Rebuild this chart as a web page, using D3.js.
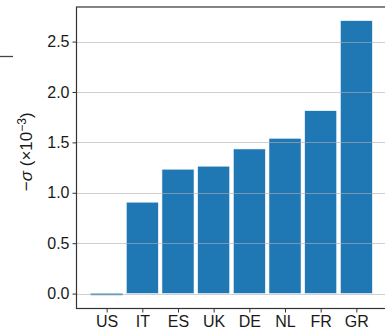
<!DOCTYPE html>
<html>
<head>
<meta charset="utf-8">
<script src="https://cdn.jsdelivr.net/npm/d3@7"></script>
<style>
  html, body { margin: 0; padding: 0; background: #fff; }
  svg { display: block; font-family: "Liberation Sans", Arial, sans-serif; }
</style>
</head>
<body>
<svg id="chart" width="385" height="332"></svg>
<script>
// Countries and their −σ values (in units of 10⁻³)
const countries = ["US", "IT", "ES", "UK", "DE", "NL", "FR", "GR"];
const sigmaValues = [-0.012, 0.907, 1.234, 1.264, 1.435, 1.541, 1.815, 2.708];
const yTicks = [0.0, 0.5, 1.0, 1.5, 2.0, 2.5];

const svg = d3.select("#chart");
const plot = { left: 76.5, top: 7, right: 386.5, bottom: 308.5 };
const fontSize = 16;

// Category positions: bar width is 0.9 of a slot, with a 5% margin on both sides
const n = countries.length;
const x = d3.scaleLinear()
  .domain([-0.845, n - 1 + 0.845])
  .range([plot.left, plot.right]);
const step = x(1) - x(0);
const barW = 0.9 * step;

const y = d3.scaleLinear()
  .domain([-0.148, 2.843])
  .range([plot.bottom, plot.top]);

// Bars
svg.append("g")
  .selectAll("rect")
  .data(sigmaValues)
  .join("rect")
  .attr("x", (d, i) => x(i) - barW / 2)
  .attr("width", barW)
  .attr("y", d => Math.min(y(d), y(0)))
  .attr("height", d => Math.max(1.6, Math.abs(y(d) - y(0))))
  .attr("fill", "#1f77b4")
  .attr("stroke", d => Math.abs(y(d) - y(0)) > 3 ? "#ffffff" : "none")
  .attr("stroke-width", 0.6);

// Horizontal gridlines, drawn above the bars
svg.append("g")
  .selectAll("line")
  .data(yTicks)
  .join("line")
  .attr("x1", plot.left)
  .attr("x2", plot.right)
  .attr("y1", d => Math.round(y(d)) + 0.5)
  .attr("y2", d => Math.round(y(d)) + 0.5)
  .attr("stroke", "#b0b0b0")
  .attr("stroke-opacity", 0.6)
  .attr("stroke-width", 1);

// Y axis
const yAxis = d3.axisLeft(y)
  .tickValues(yTicks)
  .tickFormat(d3.format(".1f"))
  .tickSize(4)
  .tickSizeOuter(0)
  .tickPadding(3);
const gy = svg.append("g")
  .attr("transform", `translate(${plot.left},0)`)
  .call(yAxis);
gy.select(".domain").remove();
gy.selectAll(".tick line").attr("stroke", "#333").attr("stroke-width", 1);
gy.selectAll(".tick text")
  .attr("font-size", fontSize)
  .attr("fill", "#1a1a1a")
  .style("font-family", "'Liberation Sans', Arial, sans-serif");

// X axis
const xAxis = d3.axisBottom(x)
  .tickValues(d3.range(n))
  .tickFormat(i => countries[i])
  .tickSize(4)
  .tickSizeOuter(0)
  .tickPadding(3);
const gx = svg.append("g")
  .attr("transform", `translate(0,${plot.bottom})`)
  .call(xAxis);
gx.select(".domain").remove();
gx.selectAll(".tick line").attr("stroke", "#333").attr("stroke-width", 1);
gx.selectAll(".tick text")
  .attr("font-size", fontSize)
  .attr("fill", "#1a1a1a")
  .style("font-family", "'Liberation Sans', Arial, sans-serif");

// Frame
svg.append("rect")
  .attr("x", plot.left)
  .attr("y", plot.top)
  .attr("width", plot.right - plot.left)
  .attr("height", plot.bottom - plot.top)
  .attr("fill", "none")
  .attr("stroke", "#333")
  .attr("stroke-width", 1.2);

// Y axis title: −σ (×10⁻³)
const title = svg.append("text")
  .attr("transform", `translate(32,${(plot.top + plot.bottom) / 2 - 6}) rotate(-90)`)
  .attr("text-anchor", "middle")
  .attr("font-size", 17)
  .attr("fill", "#1a1a1a");
title.append("tspan").text("−");
title.append("tspan").attr("font-style", "italic").text("σ");
title.append("tspan").text(" (×10");
title.append("tspan").attr("font-size", 12).attr("dy", -6).text("−3");
title.append("tspan").attr("dy", 6).text(")");

// Short stroke at the far left edge
svg.append("line")
  .attr("x1", 0).attr("x2", 13)
  .attr("y1", 56.5).attr("y2", 56.5)
  .attr("stroke", "#444")
  .attr("stroke-width", 1.3);
</script>
</body>
</html>
